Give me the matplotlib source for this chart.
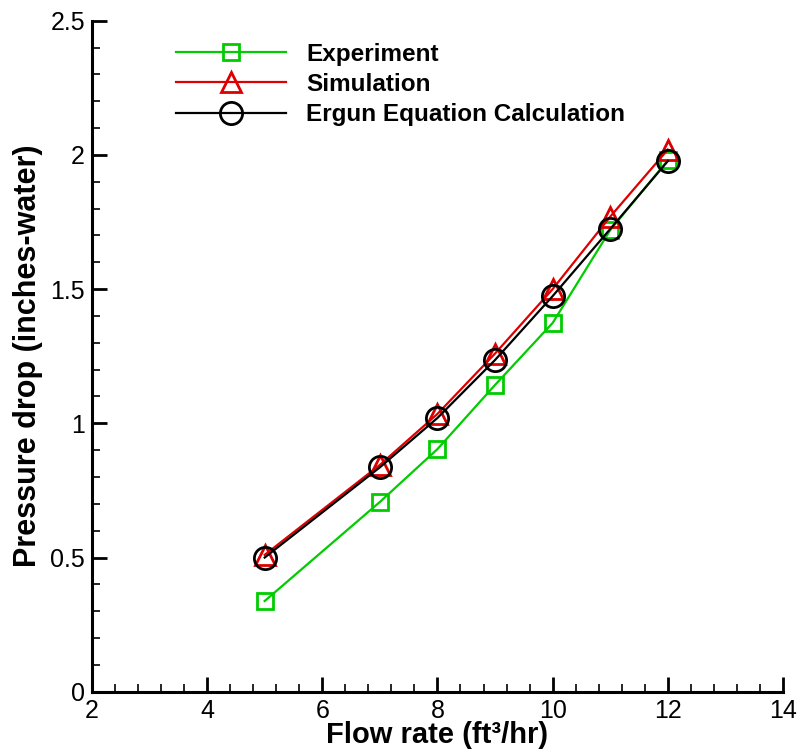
import matplotlib
matplotlib.use('Agg')
import matplotlib.pyplot as plt
from matplotlib.ticker import AutoMinorLocator

plt.rcParams['font.family'] = ['Liberation Sans', 'DejaVu Sans']

# data
flow = [5, 7, 8, 9, 10, 11, 12]
experiment = [0.338, 0.707, 0.904, 1.143, 1.374, 1.72, 1.98]
simulation = [0.51, 0.845, 1.035, 1.26, 1.50, 1.77, 2.02]
ergun = [0.50, 0.836, 1.02, 1.236, 1.474, 1.724, 1.977]

xticks = [2, 4, 6, 8, 10, 12, 14]
yticks = [0, 0.5, 1, 1.5, 2, 2.5]
ylabels = ['0', '0.5', '1', '1.5', '2', '2.5']

fig = plt.figure(figsize=(7.99, 7.56), dpi=100)
fig.set_facecolor('white')
ax = fig.add_axes([0.115, 0.085, 0.865, 0.8876])

ax.plot(flow, experiment, color='#00cc00', lw=1.6, marker='s', ms=11,
        mfc='none', mew=2, label='Experiment')
ax.plot(flow, simulation, color='#dd0000', lw=1.6, marker='^', ms=14,
        mfc='none', mew=2, label='Simulation')
ax.plot(flow, ergun, color='black', lw=1.6, marker='o', ms=16,
        mfc='none', mew=2, label='Ergun Equation Calculation')

ax.set_xlim(2, 14)
ax.set_ylim(0, 2.5)
ax.set_xticks(xticks)
ax.set_yticks(yticks)
ax.set_yticklabels(ylabels)
ax.xaxis.set_minor_locator(AutoMinorLocator(5))
ax.yaxis.set_minor_locator(AutoMinorLocator(5))

for s in ['top', 'right']:
    ax.spines[s].set_visible(False)
for s in ['left', 'bottom']:
    ax.spines[s].set_linewidth(2.2)

ax.tick_params(which='major', direction='in', length=11, width=2, labelsize=18)
ax.tick_params(which='minor', direction='in', length=6, width=1.2)
ax.tick_params(axis='x', pad=5)
ax.tick_params(axis='y', pad=5)

ax.set_xlabel('Flow rate (ft³/hr)', fontsize=21, fontweight='bold', labelpad=-1)
ax.set_ylabel('Pressure drop (inches-water)', fontsize=22, fontweight='bold', labelpad=5)

leg = ax.legend(loc='upper left', bbox_to_anchor=(0.108, 0.982), frameon=False,
                prop={'weight': 'bold', 'size': 17.5}, handlelength=4.5,
                handletextpad=0.85, labelspacing=0.3, borderaxespad=0)

fig.savefig('out.png', dpi=100, facecolor='white')
